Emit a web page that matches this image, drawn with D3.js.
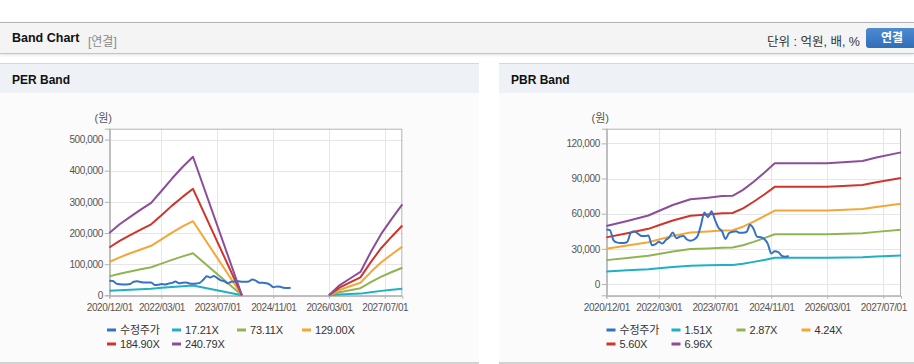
<!DOCTYPE html>
<html><head><meta charset="utf-8">
<script src="https://cdn.jsdelivr.net/npm/d3@7"></script>
<style>
html,body{margin:0;padding:0;background:#fff;width:914px;height:364px;overflow:hidden;font-family:"Liberation Sans",Arial,"Noto Sans CJK KR",sans-serif;}
#hdr{position:absolute;left:0;top:22px;width:914px;height:30px;background:#f4f4f4;border-top:1px solid #b4b4b4;border-bottom:1px solid #c4c4c4;box-shadow:0 1px 3px rgba(0,0,0,0.12);}
#hdr .t{position:absolute;left:12px;top:8px;font-weight:bold;font-size:12.5px;color:#111;}
#hdr .s{position:absolute;left:88px;top:9px;font-size:12px;color:#8a8a8a;}
#hdr .u{position:absolute;right:54px;top:8px;font-size:12.5px;color:#333;}
#hdr .b{position:absolute;left:866px;top:5px;width:52px;height:20px;border-radius:3px;background:linear-gradient(#4d8ad0,#2f6fb8);color:#fff;font-weight:bold;font-size:12px;text-align:center;line-height:20px;}
.panel{position:absolute;top:63px;height:298px;background:#fbfbfb;border-top:1px solid #d6d6d6;border-bottom:2px solid #d2d2d2;}
.panel .ph{height:29px;background:#eef1f6;}
.panel .ph span{position:absolute;left:12px;top:9px;font-weight:bold;font-size:12px;color:#111;}
svg{position:absolute;left:0;top:0;}
</style></head>
<body>
<div id="hdr"><span class="t">Band Chart</span><span class="s">[연결]</span><span class="u">단위 : 억원, 배, %</span><div class="b">연결</div></div>
<div class="panel" style="left:0;width:479px"><div class="ph"><span>PER Band</span></div></div>
<div class="panel" style="left:499px;width:415px"><div class="ph"><span>PBR Band</span></div></div>
<svg id="chart" width="914" height="364"></svg>
<script>
// ---- data ----
const xTickLabels = ["2020/12/01","2022/03/01","2023/07/01","2024/11/01","2026/03/01","2027/07/01"];
const colors = ["#3572c6","#1fb0c6","#8fb552","#f5a637","#d0352b","#8d4d99"];

const priceDates = ["2020-12","2021-01","2021-02","2021-03","2021-04","2021-05","2021-06","2021-07","2021-08","2021-09","2021-10","2021-11",
"2021-12","2022-01","2022-02","2022-03","2022-04","2022-05","2022-06","2022-07","2022-08","2022-09","2022-10","2022-11",
"2022-12","2023-01","2023-02","2023-03","2023-04","2023-05","2023-06","2023-07","2023-08","2023-09","2023-10","2023-11",
"2023-12","2024-01","2024-02","2024-03","2024-04","2024-05","2024-06","2024-07","2024-08","2024-09","2024-10","2024-11",
"2024-12","2025-01","2025-02","2025-03","2025-04"];
const priceValues = [46500,46000,37500,35500,35000,35000,36000,43700,45000,43000,41000,41000,
41500,33000,34000,36000,34500,37500,40000,44000,39000,40500,41000,38000,
37000,38000,41000,50000,61000,57000,62000,55000,48000,45000,38500,43500,
44500,45000,43700,43700,44500,50500,47000,40300,40000,38500,34500,26000,
28000,27300,24000,23300,23900];

const perLabels = ["수정주가","17.21X","73.11X","129.00X","184.90X","240.79X"];
const perDates = ["2020-12","2021-03","2021-06","2021-09","2021-12","2022-03","2022-06","2022-09","2022-12","2024-02","2025-06",
"2026-03","2026-06","2026-09","2026-12","2027-03","2027-06","2027-09","2027-12"];
const per17 = [14300,16300,18000,19700,21200,24000,26800,29400,31800,0,null,0,2300,3900,5400,9900,14200,17600,20900];
const per73 = [60700,69200,76500,83500,90200,101700,113900,125000,135000,0,null,0,9700,16400,22800,42200,60100,74700,88600];
const per129 = [107000,122000,135000,147000,159000,179500,201000,221000,238000,0,null,0,17100,28900,40200,74500,106000,131800,156400];
const per185 = [153600,175000,193500,211000,228000,257000,288000,316000,342000,0,null,0,24600,41500,57600,106700,152000,189000,224000];
const per241 = [200000,228000,252000,275000,297000,335000,375000,412000,445000,0,null,0,32000,54000,75000,139000,198000,246000,292000];
const perYTicks = [0,100000,200000,300000,400000,500000];

const pbrLabels = ["수정주가","1.51X","2.87X","4.24X","5.60X","6.96X"];
const pbrDates = ["2020-12","2021-06","2021-12","2022-03","2022-07","2022-12","2023-05","2023-09","2023-12","2024-03","2024-06","2024-09","2024-12","2026-03","2027-01","2027-05","2027-12"];
const pbr151 = [10700,11700,12700,13500,14600,15700,16000,16300,16300,17400,18900,20600,22400,22400,22800,23400,24400];
const pbr287 = [20400,22200,24100,25700,27800,29800,30400,30900,31100,33100,36000,39200,42500,42500,43300,44500,46300];
const pbr424 = [30200,32800,35600,38000,41100,44000,44900,45700,45900,48900,53200,57900,62700,62700,64000,65800,68400];
const pbr560 = [39800,43300,47100,50100,54200,58200,59300,60300,60600,64600,70200,76400,82900,82900,84500,86900,90400];
const pbr696 = [49500,53800,58500,62300,67400,72300,73700,75000,75300,80300,87300,95000,103000,103000,105000,108000,112300];
const pbrYTicks = [0,30000,60000,90000,120000];

// ---- drawing ----
const parseM = d3.timeParse("%Y-%m");
const parseT = d3.timeParse("%Y/%m/%d");
const svg = d3.select("#chart");
const font = '"Liberation Sans",Arial,"Noto Sans CJK KR",sans-serif';

function drawChart(cfg){
  const x = d3.scaleTime().domain([parseM("2020-12"), parseM("2027-12")]).range([cfg.x0, cfg.x1]);
  const y = d3.scaleLinear().domain(cfg.yDomain).range([cfg.yBottom, cfg.yTop]);
  const g = svg.append("g");
  g.append("rect").attr("x",cfg.x0).attr("y",cfg.yTop).attr("width",cfg.x1-cfg.x0).attr("height",cfg.yBottom-cfg.yTop).attr("fill","#fff");
  const xt = xTickLabels.map(parseT);
  // grid
  g.selectAll(".gy").data(cfg.yTicks).join("line").attr("x1",cfg.x0).attr("x2",cfg.x1)
    .attr("y1",d=>Math.round(y(d))+0.5).attr("y2",d=>Math.round(y(d))+0.5).attr("stroke","#e6e6e6");
  g.selectAll(".gx").data(xt).join("line").attr("y1",cfg.yTop).attr("y2",cfg.yBottom)
    .attr("x1",d=>Math.round(x(d))+0.5).attr("x2",d=>Math.round(x(d))+0.5).attr("stroke","#e6e6e6");
  // border
  g.append("rect").attr("x",cfg.x0+0.5).attr("y",cfg.yTop+0.5).attr("width",cfg.x1-cfg.x0-1).attr("height",cfg.yBottom-cfg.yTop)
    .attr("fill","none").attr("stroke","#b3b3b3");
  // axes
  const ya = d3.axisLeft(y).tickValues(cfg.yTicks).tickFormat(d3.format(",")).tickSize(5).tickPadding(2);
  const yg = g.append("g").attr("transform",`translate(${cfg.x0+0.5},0)`).call(ya);
  const xa = d3.axisBottom(x).tickValues(xt).tickFormat(d3.timeFormat("%Y/%m/%d")).tickSize(3).tickPadding(5);
  const xg = g.append("g").attr("transform",`translate(0,${cfg.yBottom+0.5})`).call(xa);
  [yg,xg].forEach(a=>{
    a.select(".domain").attr("stroke","#b3b3b3");
    a.selectAll(".tick line").attr("stroke","#b3b3b3");
    a.selectAll("text").attr("fill","#555").style("font-family",font).style("font-size","10px").style("letter-spacing","-0.4px");
  });
  g.append("text").attr("x",cfg.x0-6).attr("y",cfg.yTop-7).attr("text-anchor","middle").attr("fill","#555")
    .style("font-family",font).style("font-size","11px").text("(원)");
  // lines
  const bandDates = cfg.bandDates.map(parseM);
  const line = d3.line().defined(d=>d[1]!=null).x(d=>x(d[0])).y(d=>y(d[1]));
  cfg.bands.forEach((arr,i)=>{
    g.append("path").datum(arr.map((v,j)=>[bandDates[j],v])).attr("d",line)
      .attr("fill","none").attr("stroke",colors[i+1]).attr("stroke-width",2).attr("stroke-linejoin","round");
  });
  g.append("path").datum(priceValues.map((v,j)=>[parseM(priceDates[j]),v])).attr("d",d3.line().curve(d3.curveMonotoneX).x(d=>x(d[0])).y(d=>y(d[1])))
    .attr("fill","none").attr("stroke",colors[0]).attr("stroke-width",2).attr("stroke-linejoin","round");
  // legend
  const lg = g.append("g");
  cfg.labels.forEach((lab,i)=>{
    const col = i%4, row = Math.floor(i/4);
    const lx = cfg.legX + col*65, ly = 330 + row*14;
    lg.append("rect").attr("x",lx).attr("y",ly-1.5).attr("width",9).attr("height",3).attr("fill",colors[i]);
    lg.append("text").attr("x",lx+13).attr("y",ly+4).attr("fill","#333")
      .style("font-family",font).style("font-size","11px").style("letter-spacing","-0.2px").text(lab);
  });
}

drawChart({x0:109.3,x1:402.3,yTop:128.7,yBottom:295.3,yDomain:[0,535000],yTicks:perYTicks,
  bandDates:perDates,bands:[per17,per73,per129,per185,per241],labels:perLabels,legX:107});
drawChart({x0:606.3,x1:901,yTop:128.7,yBottom:295.3,yDomain:[-9600,132500],yTicks:pbrYTicks,
  bandDates:pbrDates,bands:[pbr151,pbr287,pbr424,pbr560,pbr696],labels:pbrLabels,legX:606.5});
</script>
</body></html>
